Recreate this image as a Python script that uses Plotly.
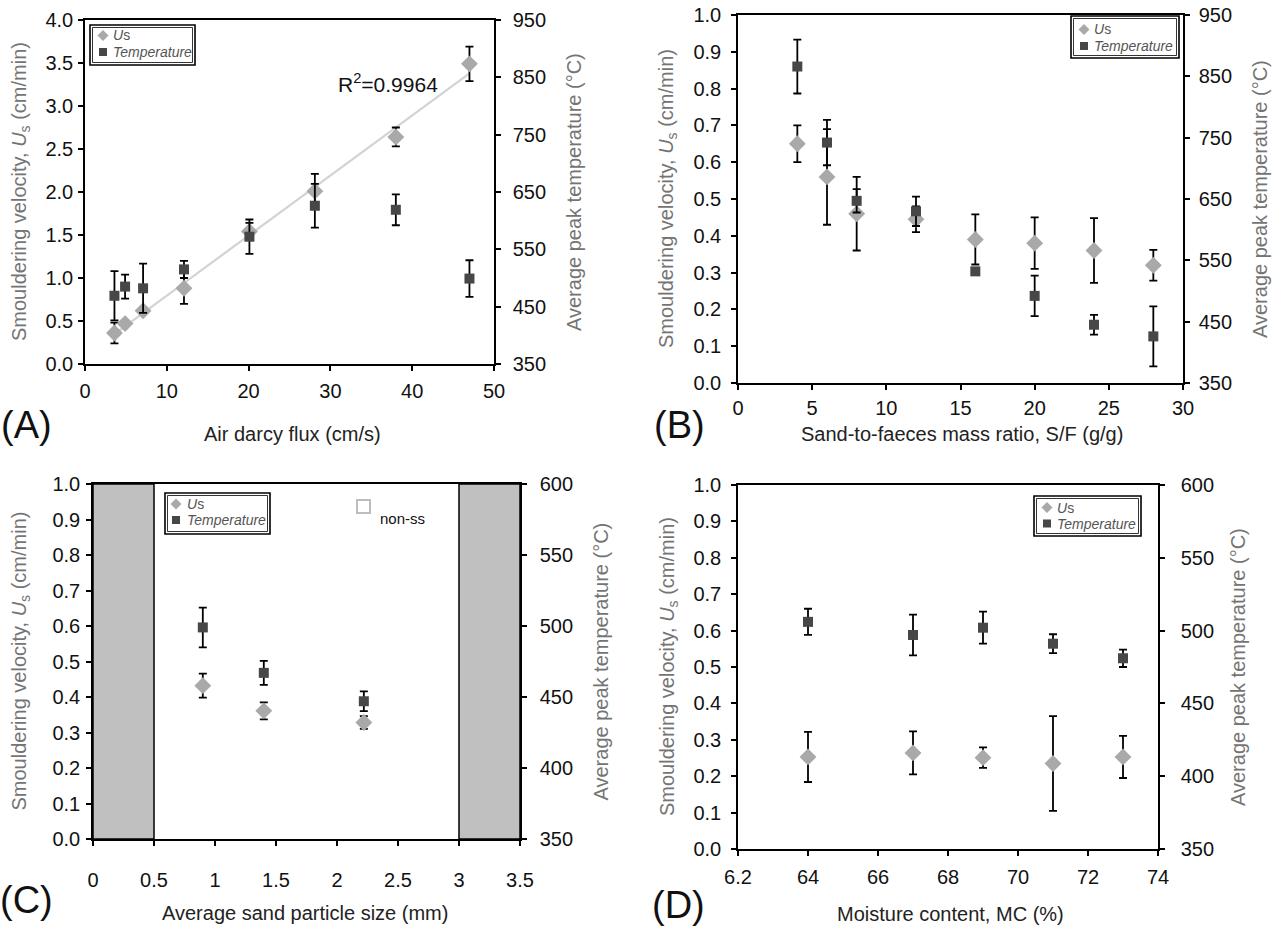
import numpy as np
import plotly.graph_objects as go

W, H = 1275, 929

# ---------------- data ----------------
# (A) air darcy flux
a_flux = [3.6, 4.9, 7.1, 12.1, 20.1, 28.1, 38.0, 47.0]
a_us = [0.36, 0.47, 0.62, 0.88, 1.54, 2.01, 2.64, 3.49]
a_us_err = [0.12, 0.03, 0.04, 0.18, 0.10, 0.20, 0.11, 0.20]
a_temp = [469, 485, 482, 515, 572, 626, 619, 499]
a_temp_err = [43, 21, 43, 15, 30, 38, 27, 32]

# (B) sand-to-faeces ratio
b_ratio = [4, 6, 8, 12, 16, 20, 24, 28]
b_us = [0.65, 0.56, 0.46, 0.445, 0.39, 0.38, 0.36, 0.32]
b_us_err = [0.05, 0.13, 0.10, 0.035, 0.068, 0.07, 0.088, 0.042]
b_temp = [866, 742, 647, 630, 532, 492, 445, 426]
b_temp_err = [44, 37, 19, 24, 5, 33, 16, 49]

# (C) sand particle size
c_size = [0.9, 1.4, 2.22]
c_us = [0.432, 0.361, 0.328]
c_us_err = [0.034, 0.024, 0.018]
c_temp = [499, 467, 447]
c_temp_err = [14, 8.5, 7]
c_nonss_low = [0.0, 0.5]
c_nonss_high = [3.0, 3.5]

# (D) moisture content
d_mc = [64, 67, 69, 71, 73]
d_us = [0.253, 0.264, 0.251, 0.235, 0.253]
d_us_err = [0.069, 0.059, 0.028, 0.13, 0.058]
d_temp = [506, 497, 502, 491, 481]
d_temp_err = [9, 14, 11, 6.5, 6]
d_tickvals = [62, 64, 66, 68, 70, 72, 74]
d_ticktext = ["6.2", "64", "66", "68", "70", "72", "74"]

r2_text = "R<sup>2</sup>=0.9964"

# ---------------- style ----------------
FONT = "Liberation Sans, Arial, sans-serif"
US_COLOR = "#a9a9a9"
T_COLOR = "#474747"
TITLE_GREY = "#747474"
LEG_TEXT = "#555555"
SHADE = "#c0c0c0"


def px(x):
    return x / W


def py(y):
    return 1 - y / H


fig = go.Figure()

panels = [
    dict(x=a_flux, us=a_us, use=a_us_err, t=a_temp, te=a_temp_err,
         box=(85, 494, 20, 364), xr=[0, 50], xd=10, yl=[0, 4], yld=0.5,
         yr=[350, 950], yrd=100, xstand=3, lstand=1, rstand=8,
         xtitle="Air darcy flux (cm/s)", xt_pos=(292, 434),
         lt_x=20, rt_x=574, label="(A)", lab_pos=(26, 425),
         leg_box=(90, 25, 195, 65), leg_sym_x=103, leg_rows=(35.5, 52), leg_txt_x=111),
    dict(x=b_ratio, us=b_us, use=b_us_err, t=b_temp, te=b_temp_err,
         box=(738, 1183, 15, 383), xr=[0, 30], xd=5, yl=[0, 1], yld=0.1,
         yr=[350, 950], yrd=100, xstand=1, lstand=6, rstand=5,
         xtitle="Sand-to-faeces mass ratio, S/F (g/g)", xt_pos=(962, 434),
         lt_x=668, rt_x=1260, label="(B)", lab_pos=(679, 425),
         leg_box=(1071, 16, 1179, 58), leg_sym_x=1084, leg_rows=(29.5, 46), leg_txt_x=1092),
    dict(x=c_size, us=c_us, use=c_us_err, t=c_temp, te=c_temp_err,
         box=(93, 520, 484, 839), xr=[0, 3.5], xd=0.5, yl=[0, 1], yld=0.1,
         yr=[350, 600], yrd=50, xstand=17, lstand=2, rstand=9,
         xtitle="Average sand particle size (mm)", xt_pos=(305, 913),
         lt_x=20, rt_x=600, label="(C)", lab_pos=(26, 900),
         leg_box=(165, 493, 270, 534), leg_sym_x=176, leg_rows=(504, 520), leg_txt_x=185),
    dict(x=d_mc, us=d_us, use=d_us_err, t=d_temp, te=d_temp_err,
         box=(738, 1158, 485, 849), xr=[62, 74], xd=2, yl=[0, 1], yld=0.1,
         yr=[350, 600], yrd=50, xstand=4, lstand=6, rstand=12,
         xtitle="Moisture content, MC (%)", xt_pos=(950, 914),
         lt_x=668, rt_x=1238, label="(D)", lab_pos=(678, 905),
         leg_box=(1034, 496, 1141, 536), leg_sym_x=1047, leg_rows=(507.5, 523.5), leg_txt_x=1055),
]

shapes = []
annotations = []
axis_common = dict(showline=True, linecolor="black", linewidth=1.5,
                   ticks="outside", ticklen=5, tickwidth=1.5, tickcolor="black",
                   showgrid=False, zeroline=False, automargin=False,
                   tickfont=dict(family=FONT, size=20, color="#111111"))

for i, p in enumerate(panels):
    n = i + 1
    xk = "xaxis" if n == 1 else f"xaxis{n}"
    xref = "x" if n == 1 else f"x{n}"
    yl_n = 2 * n - 1
    yr_n = 2 * n
    ylk = "yaxis" if yl_n == 1 else f"yaxis{yl_n}"
    ylref = "y" if yl_n == 1 else f"y{yl_n}"
    yrk = f"yaxis{yr_n}"
    yrref = f"y{yr_n}"
    x0, x1, y0, y1 = p["box"]

    xa = dict(axis_common, domain=[px(x0), px(x1)], range=p["xr"], anchor=ylref,
              mirror=True, ticklabelstandoff=p["xstand"])
    if n == 4:
        xa.update(tickmode="array", tickvals=d_tickvals, ticktext=d_ticktext)
    else:
        xa.update(tickmode="linear", tick0=p["xr"][0], dtick=p["xd"])
    yla = dict(axis_common, domain=[py(y1), py(y0)], range=p["yl"], anchor=xref,
               tickmode="linear", tick0=0, dtick=p["yld"], tickformat=".1f", side="left",
               ticklabelstandoff=p["lstand"])
    yra = dict(axis_common, range=p["yr"], anchor=xref, overlaying=ylref, side="right",
               tickmode="linear", tick0=p["yr"][0], dtick=p["yrd"],
               ticklabelstandoff=p["rstand"])
    fig.update_layout(**{xk: xa, ylk: yla, yrk: yra})

    # trend line on panel A
    if n == 1:
        coef = np.polyfit(a_flux, a_us, 1)
        xs = np.array([min(a_flux), max(a_flux)])
        fig.add_trace(go.Scatter(x=xs, y=np.polyval(coef, xs), mode="lines",
                                 line=dict(color="#d3d3d3", width=2.2),
                                 xaxis=xref, yaxis=ylref, showlegend=False, hoverinfo="skip"))
        annotations.append(dict(x=37.0, y=3.27, xref=xref, yref=ylref, text=r2_text,
                                showarrow=False, font=dict(family=FONT, size=21, color="#111111")))

    # non-steady-state shading on panel C
    if n == 3:
        for lo, hi in (c_nonss_low, c_nonss_high):
            shapes.append(dict(type="rect", xref=xref, yref=ylref, x0=lo, x1=hi, y0=0, y1=1,
                               fillcolor=SHADE, line=dict(color="black", width=1.5), layer="below"))
        shapes.append(dict(type="rect", xref="paper", yref="paper",
                           x0=px(357), x1=px(370), y0=py(513), y1=py(500),
                           line=dict(color="#bdbdbd", width=2), fillcolor="rgba(0,0,0,0)"))
        annotations.append(dict(x=px(378), y=py(518), xref="paper", yref="paper", text="non-ss",
                                xanchor="left", yanchor="middle", showarrow=False,
                                font=dict(family=FONT, size=15, color="#111111")))

    fig.add_trace(go.Scatter(x=p["x"], y=p["us"], mode="markers",
                             marker=dict(symbol="diamond", size=13, color=US_COLOR),
                             error_y=dict(type="data", array=p["use"], color="black",
                                          thickness=1.8, width=4),
                             xaxis=xref, yaxis=ylref, showlegend=False, name="Us"))
    fig.add_trace(go.Scatter(x=p["x"], y=p["t"], mode="markers",
                             marker=dict(symbol="square", size=10, color=T_COLOR),
                             error_y=dict(type="data", array=p["te"], color="black",
                                          thickness=1.8, width=4),
                             xaxis=xref, yaxis=yrref, showlegend=False, name="Temperature"))

    # axis titles
    annotations.append(dict(x=px(p["xt_pos"][0]), y=py(p["xt_pos"][1]), xref="paper", yref="paper",
                            text=p["xtitle"], showarrow=False, xanchor="center", yanchor="middle",
                            font=dict(family=FONT, size=20, color="#222222")))
    ymid = (y0 + y1) / 2
    annotations.append(dict(x=px(p["lt_x"]), y=py(ymid), xref="paper", yref="paper",
                            text="Smouldering velocity, <i>U</i><sub>s</sub> (cm/min)",
                            textangle=-90, showarrow=False, xanchor="center", yanchor="middle",
                            font=dict(family=FONT, size=20, color=TITLE_GREY)))
    annotations.append(dict(x=px(p["rt_x"]), y=py(ymid), xref="paper", yref="paper",
                            text="Average peak temperature (°C)",
                            textangle=-90, showarrow=False, xanchor="center", yanchor="middle",
                            font=dict(family=FONT, size=20, color=TITLE_GREY)))
    annotations.append(dict(x=px(p["lab_pos"][0]), y=py(p["lab_pos"][1]), xref="paper", yref="paper",
                            text=p["label"], showarrow=False, xanchor="center", yanchor="middle",
                            font=dict(family=FONT, size=38, color="#111111")))

    # legend box (double border)
    bx0, by0, bx1, by1 = p["leg_box"]
    shapes.append(dict(type="rect", xref="paper", yref="paper",
                       x0=px(bx0), x1=px(bx1), y0=py(by1), y1=py(by0),
                       line=dict(color="black", width=1.6), fillcolor="white"))
    shapes.append(dict(type="rect", xref="paper", yref="paper",
                       x0=px(bx0 + 2.5), x1=px(bx1 - 2.5), y0=py(by1 - 2.5), y1=py(by0 + 2.5),
                       line=dict(color="black", width=0.8), fillcolor="rgba(0,0,0,0)"))
    sx = p["leg_sym_x"]
    r1, r2 = p["leg_rows"]
    d = 5.5
    shapes.append(dict(type="path", xref="paper", yref="paper",
                       path=f"M {px(sx - d)},{py(r1)} L {px(sx)},{py(r1 - d)} L {px(sx + d)},{py(r1)} L {px(sx)},{py(r1 + d)} Z",
                       fillcolor=US_COLOR, line=dict(width=0)))
    s = 4
    shapes.append(dict(type="rect", xref="paper", yref="paper",
                       x0=px(sx - s), x1=px(sx + s), y0=py(r2 + s), y1=py(r2 - s),
                       fillcolor=T_COLOR, line=dict(width=0)))
    annotations.append(dict(x=px(p["leg_txt_x"]), y=py(r1), xref="paper", yref="paper",
                            text="<i>U</i>s", showarrow=False, xanchor="left", yanchor="middle",
                            font=dict(family=FONT, size=14, color=LEG_TEXT)))
    annotations.append(dict(x=px(p["leg_txt_x"]), y=py(r2), xref="paper", yref="paper",
                            text="<i>Temperature</i>", showarrow=False, xanchor="left", yanchor="middle",
                            font=dict(family=FONT, size=14, color=LEG_TEXT)))

fig.update_layout(template="none", width=W, height=H, autosize=False,
                  margin=dict(l=0, r=0, t=0, b=0, pad=0, autoexpand=False),
                  paper_bgcolor="white", plot_bgcolor="white", showlegend=False,
                  shapes=shapes, annotations=annotations,
                  font=dict(family=FONT, size=20, color="#111111"))

fig.write_html("out.html", config={"displayModeBar": False},
               post_script="document.body.style.margin='0';document.body.style.overflow='hidden';")
